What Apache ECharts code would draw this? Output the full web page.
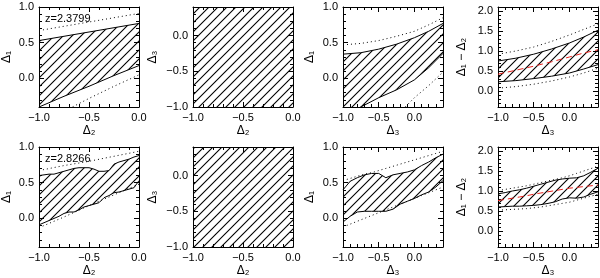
<!DOCTYPE html>
<html>
<head>
<meta charset="utf-8">
<script src="https://cdn.jsdelivr.net/npm/echarts@6/dist/echarts.min.js"></script>
<style>
  html, body { margin: 0; padding: 0; background: #fff; }
  #chart { width: 600px; height: 278px; }
</style>
</head>
<body>
<div id="chart"></div>
<script>
// sample positions along the horizontal axis
const xShort = [-1, -0.75, -0.5, -0.25, 0];
const xLong = [-1, -0.75, -0.5, -0.25, 0, 0.2, 0.4];
const xFine = [-1, -0.95, -0.9, -0.85, -0.8, -0.75, -0.7, -0.65, -0.6, -0.55, -0.5,
               -0.45, -0.4, -0.35, -0.3, -0.25, -0.2, -0.15, -0.1, -0.05, 0];
const xFineLong = [-1, -0.9, -0.8, -0.7, -0.6, -0.5, -0.4, -0.3, -0.2, -0.1, 0, 0.1, 0.2, 0.3, 0.4];
const xFull = [-1, 0];

// z = 2.3799
const p1Upper = [0.53, 0.59, 0.65, 0.71, 0.77];
const p1Lower = [-0.40, -0.25, -0.11, 0.04, 0.18];
const p1DotUp = [0.67, 0.73, 0.79, 0.85, 0.91];
const p1DotLo = [-0.70, -0.46, -0.28, -0.11, 0.05];

const p2Upper = [0.4, 0.4];
const p2Lower = [-1, -1];

const p3Upper = [0.34, 0.36, 0.41, 0.48, 0.57, 0.66, 0.77];
const p3Lower = [-0.52, -0.40, -0.27, -0.16, -0.02, 0.15, 0.35];
const p3DotUp = [0.47, 0.49, 0.53, 0.59, 0.66, 0.75, 0.85];
const p3DotLo = [-1.0, -0.85, -0.70, -0.52, -0.27, -0.10, 0.09];

const p4Upper = [0.75, 0.82, 0.92, 1.05, 1.20, 1.35, 1.52];
const p4Lower = [0.23, 0.26, 0.31, 0.37, 0.45, 0.55, 0.66];
const p4Mid = [0.42, 0.52, 0.62, 0.73, 0.85, 0.95, 1.03];
const p4DotUp = [0.92, 1.00, 1.10, 1.24, 1.40, 1.54, 1.68];
const p4DotLo = [0.07, 0.11, 0.17, 0.25, 0.35, 0.45, 0.57];

// z = 2.8266
const p5Upper = [0.60, 0.61, 0.62, 0.62, 0.64, 0.66, 0.68, 0.70, 0.71, 0.71, 0.71,
                 0.69, 0.66, 0.66, 0.67, 0.76, 0.79, 0.81, 0.83, 0.86, 0.88];
const p5Lower = [-0.09, -0.06, -0.03, 0.00, 0.03, 0.07, 0.09, 0.09, 0.12, 0.16, 0.18,
                 0.20, 0.22, 0.29, 0.32, 0.36, 0.37, 0.39, 0.41, 0.43, 0.53];
const p5DotUp = [0.67, 0.74, 0.80, 0.87, 0.94];
const p5DotLo = [-0.13, 0.02, 0.18, 0.33, 0.48];

const p6Upper = [0.4, 0.4];
const p6Lower = [-1, -1];

const p7Upper = [0.40, 0.52, 0.57, 0.61, 0.63, 0.63, 0.57, 0.61, 0.63, 0.65, 0.68, 0.74, 0.79, 0.85, 0.90];
const p7Lower = [-0.05, 0.03, 0.09, 0.10, 0.10, 0.10, 0.10, 0.13, 0.20, 0.24, 0.28, 0.33, 0.37, 0.44, 0.53];
const p7DotUp = [0.53, 0.56, 0.59, 0.62, 0.64, 0.67, 0.70, 0.73, 0.76, 0.79, 0.82, 0.85, 0.88, 0.91, 0.94];
const p7DotLo = [-0.12, -0.08, -0.04, 0.00, 0.04, 0.08, 0.12, 0.16, 0.20, 0.24, 0.28, 0.32, 0.36, 0.40, 0.44];

const p8Upper = [0.93, 0.96, 1.00, 1.03, 1.07, 1.12, 1.17, 1.22, 1.27, 1.30, 1.32, 1.33, 1.38, 1.47, 1.57];
const p8Lower = [0.60, 0.61, 0.62, 0.62, 0.63, 0.64, 0.66, 0.69, 0.73, 0.80, 0.83, 0.82, 0.85, 0.92, 0.98];
const p8Mid = [0.76, 0.79, 0.82, 0.85, 0.88, 0.92, 0.95, 0.98, 1.01, 1.04, 1.07, 1.09, 1.11, 1.13, 1.15];
const p8DotUp = [1.01, 1.04, 1.07, 1.10, 1.13, 1.17, 1.21, 1.25, 1.29, 1.33, 1.38, 1.44, 1.50, 1.56, 1.62];
const p8DotLo = [0.52, 0.53, 0.54, 0.55, 0.56, 0.58, 0.60, 0.63, 0.66, 0.69, 0.72, 0.77, 0.82, 0.87, 0.92];

// tick labels
const ticksA = [-1, -0.5, 0];
const ticksB = [-1, -0.5, 0, 0.5, 1];
const ticksC = [0, 0.5, 1, 1.5, 2];
const redshifts = ['z=2.3799', 'z=2.8266'];

const FONT = '"Liberation Sans", Arial, "DejaVu Sans", sans-serif';

// hatch tile, lines x+y = k*9
const hatch = document.createElement('canvas');
hatch.width = 18; hatch.height = 18;
const hc = hatch.getContext('2d');
hc.strokeStyle = '#000';
hc.lineWidth = 1.1;
hc.beginPath();
[0, 9, 18, 27, 36].forEach(k => { hc.moveTo(k + 2, -2); hc.lineTo(-2, k + 2); });
hc.stroke();
const hatchFill = { image: hatch, repeat: 'repeat' };

function fmt(v) {
  return (v < 0 ? '\u2212' : '') + Math.abs(v).toFixed(1);
}
function minorVals(min, max) {
  const out = [];
  for (let k = Math.ceil(min * 10 - 1e-9); k <= Math.floor(max * 10 + 1e-9); k++) out.push(k / 10);
  return out;
}

// per side: major (line, labels) + minor ticks, mirrored on the opposite side
function axisSet(dim, gi, min, max, major, name, gap) {
  const mainPos = dim === 'x' ? 'bottom' : 'left';
  const oppPos = dim === 'x' ? 'top' : 'right';
  const minor = minorVals(min, max);
  const mk = (pos, vals, len, labels, line) => ({
    gridIndex: gi, type: 'value', min: min, max: max, position: pos,
    splitLine: { show: false },
    axisLine: { show: line, onZero: false, lineStyle: { color: '#000', width: 1 } },
    axisTick: { show: true, inside: true, length: len, customValues: vals, lineStyle: { color: '#000', width: 1 } },
    axisLabel: labels ? {
      show: true, customValues: major, formatter: fmt, color: '#000',
      fontSize: 11, fontFamily: FONT, margin: 5
    } : { show: false }
  });
  const main = mk(mainPos, major, 5, true, true);
  main.name = name;
  main.nameLocation = 'middle';
  main.nameGap = gap;
  main.nameTextStyle = { color: '#000', fontSize: 12, fontFamily: FONT };
  return [main, mk(mainPos, minor, 3, false, false), mk(oppPos, major, 5, false, true), mk(oppPos, minor, 3, false, false)];
}

const panels = [
  { xs: xShort, up: p1Upper, lo: p1Lower, dotUp: p1DotUp, dotLo: p1DotLo, xr: [-1, 0], yr: [-0.4, 1], xt: ticksA, yt: ticksB, xn: 'Δ₂', yn: 'Δ₁', yg: 26 },
  { xs: xFull, up: p2Upper, lo: p2Lower, full: true, xr: [-1, 0], yr: [-1, 0.4], xt: ticksA, yt: ticksA, xn: 'Δ₂', yn: 'Δ₃', yg: 34 },
  { xs: xLong, up: p3Upper, lo: p3Lower, dotUp: p3DotUp, dotLo: p3DotLo, xr: [-1, 0.4], yr: [-0.4, 1], xt: ticksA, yt: ticksB, xn: 'Δ₃', yn: 'Δ₁', yg: 27 },
  { xs: xLong, up: p4Upper, lo: p4Lower, mid: p4Mid, dotUp: p4DotUp, dotLo: p4DotLo, xr: [-1, 0.4], yr: [-0.4, 2.1], xt: ticksA, yt: ticksC, xn: 'Δ₃', yn: 'Δ₁ − Δ₂', yg: 30 },
  { xs: xFine, up: p5Upper, lo: p5Lower, dxs: xShort, dotUp: p5DotUp, dotLo: p5DotLo, xr: [-1, 0], yr: [-0.4, 1], xt: ticksA, yt: ticksB, xn: 'Δ₂', yn: 'Δ₁', yg: 26 },
  { xs: xFull, up: p6Upper, lo: p6Lower, full: true, xr: [-1, 0], yr: [-1, 0.4], xt: ticksA, yt: ticksA, xn: 'Δ₂', yn: 'Δ₃', yg: 34 },
  { xs: xFineLong, up: p7Upper, lo: p7Lower, dotUp: p7DotUp, dotLo: p7DotLo, xr: [-1, 0.4], yr: [-0.4, 1], xt: ticksA, yt: ticksB, xn: 'Δ₃', yn: 'Δ₁', yg: 27 },
  { xs: xFineLong, up: p8Upper, lo: p8Lower, mid: p8Mid, dotUp: p8DotUp, dotLo: p8DotLo, xr: [-1, 0.4], yr: [-0.4, 2.1], xt: ticksA, yt: ticksC, xn: 'Δ₃', yn: 'Δ₁ − Δ₂', yg: 30 }
];

const lefts = [39, 193, 343, 498];
const tops = [7, 147];

const grid = [], xAxis = [], yAxis = [], series = [];
const zip = (a, b) => a.map((v, i) => [v, b[i]]);

panels.forEach((p, gi) => {
  grid.push({ left: lefts[gi % 4], top: tops[Math.floor(gi / 4)], width: 100, height: 100 });
  xAxis.push(...axisSet('x', gi, p.xr[0], p.xr[1], p.xt, p.xn, 18));
  yAxis.push(...axisSet('y', gi, p.yr[0], p.yr[1], p.yt, p.yn, p.yg));
  const ax = { xAxisIndex: gi * 4, yAxisIndex: gi * 4 };

  // hatched band between lower and upper bounds
  series.push(Object.assign({
    type: 'custom', clip: true, z: 2,
    data: p.xs.map((x, i) => [x, p.lo[i], p.up[i]]),
    renderItem: (params, api) => {
      if (params.dataIndex !== 0) return null;
      const pts = [];
      p.xs.forEach((x, i) => pts.push(api.coord([x, p.lo[i]])));
      for (let i = p.xs.length - 1; i >= 0; i--) pts.push(api.coord([p.xs[i], p.up[i]]));
      return { type: 'polygon', shape: { points: pts }, style: { fill: hatchFill, stroke: null } };
    }
  }, ax));

  if (!p.full) {
    [p.lo, p.up].forEach(d => series.push(Object.assign({
      type: 'line', symbol: 'none', data: zip(p.xs, d),
      lineStyle: { color: '#000', width: 1 }, z: 3
    }, ax)));
  }
  if (p.dotUp) {
    const dx = p.dxs || p.xs;
    [p.dotUp, p.dotLo].forEach(d => series.push(Object.assign({
      type: 'line', symbol: 'none', data: zip(dx, d),
      lineStyle: { color: '#000', width: 1, type: [1, 3] }, z: 4
    }, ax)));
  }
  if (p.mid) {
    series.push(Object.assign({
      type: 'line', symbol: 'none', data: zip(p.xs, p.mid),
      lineStyle: { color: '#e8201c', width: 1, type: [6, 4] }, z: 5
    }, ax));
  }
});

const chart = echarts.init(document.getElementById('chart'), null, { renderer: 'canvas' });
chart.setOption({
  animation: false,
  backgroundColor: '#fff',
  grid: grid,
  xAxis: xAxis,
  yAxis: yAxis,
  series: series,
  graphic: redshifts.map((t, i) => ({
    type: 'text', left: 45, top: tops[i] + 6,
    style: { text: t, fill: '#000', font: '11px ' + FONT }
  }))
});
</script>
</body>
</html>
